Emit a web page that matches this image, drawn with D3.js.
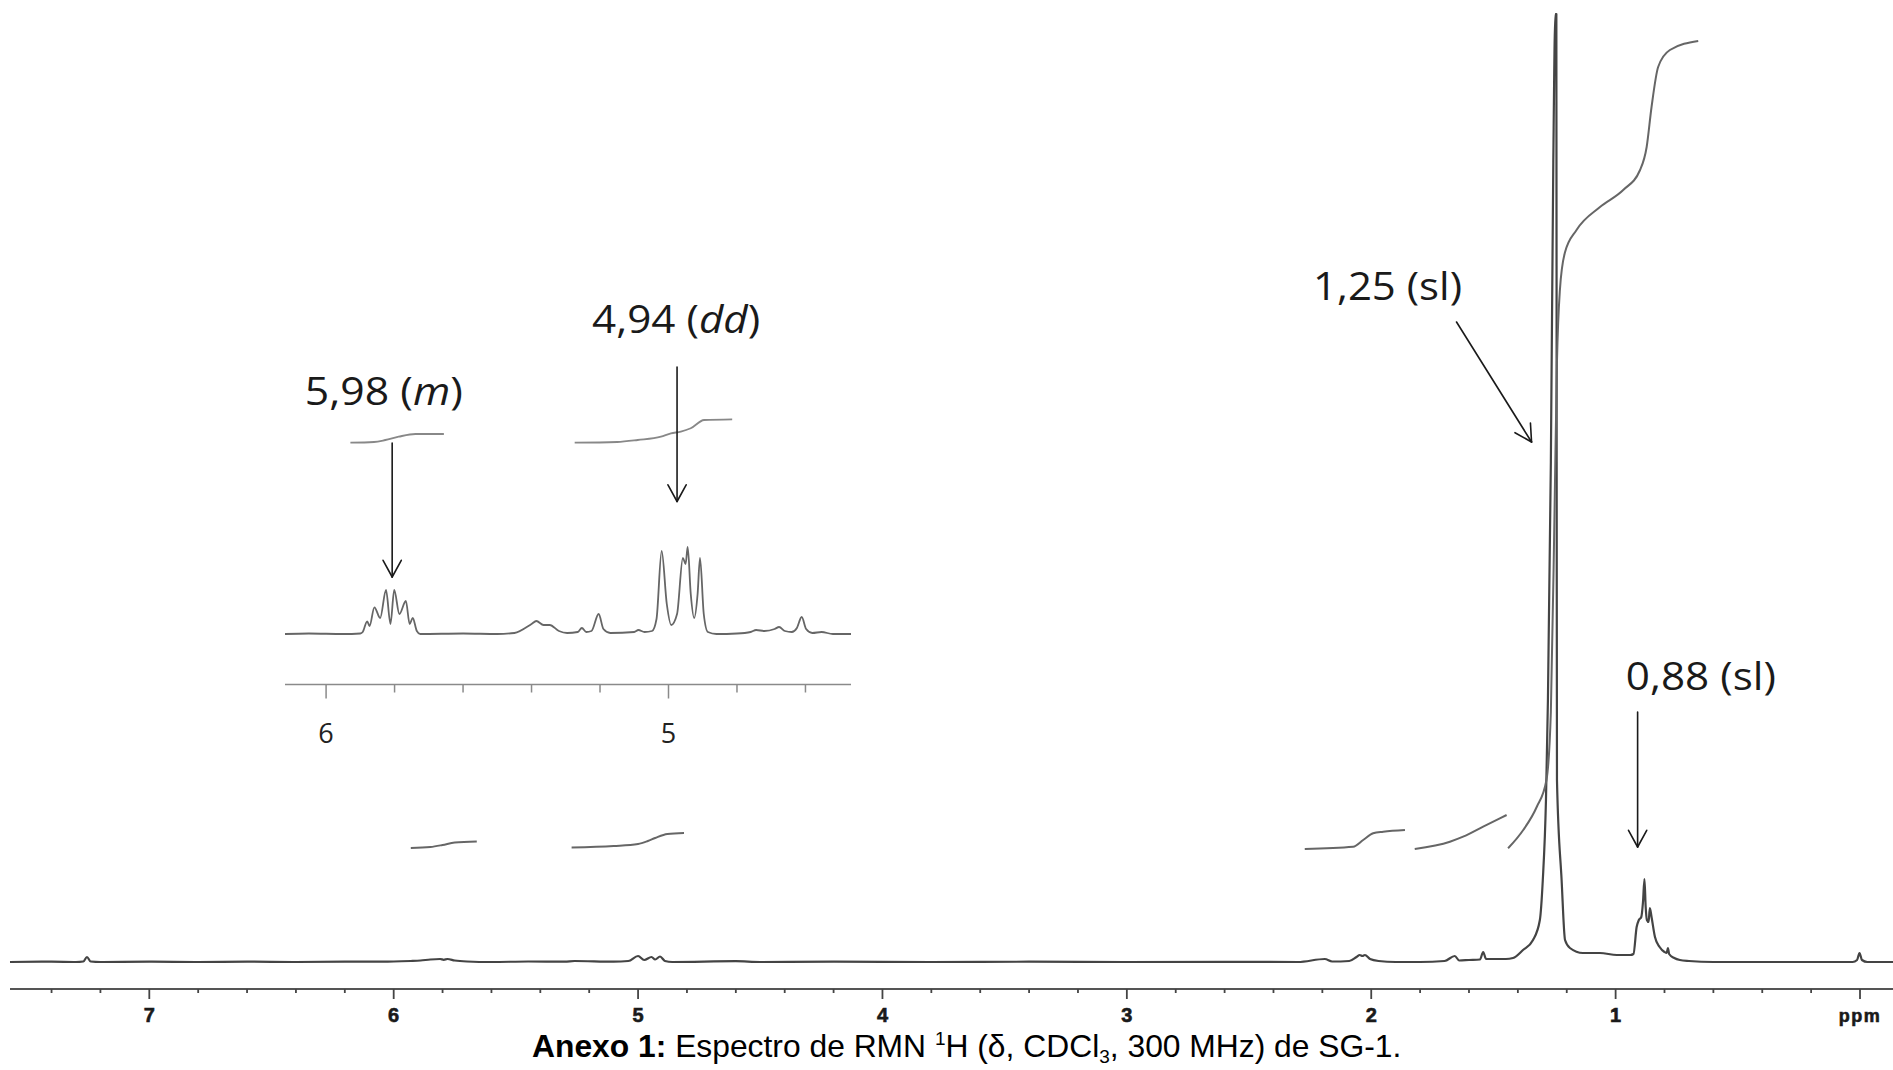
<!DOCTYPE html>
<html>
<head>
<meta charset="utf-8">
<script src="https://cdn.jsdelivr.net/npm/d3@7"></script>
<style>
  html, body { margin: 0; padding: 0; background: #fff; }
  svg { display: block; }
</style>
</head>
<body>
<svg id="chart" width="1893" height="1070"></svg>
<script>
// main spectrum, [ppm, intensity]
var mainSpectrum = [
  [7.57, 0], [7.40, 0.3], [7.30, 0], [7.27, 0.5], [7.255, 5], [7.24, 0.5], [7.2, 0],
  [7.0, 0.4], [6.8, 0], [6.6, 0.4], [6.4, 0], [6.2, 0.3], [6.0, 0.5], [5.93, 1],
  [5.89, 1.5], [5.85, 2.5], [5.81, 3], [5.795, 2.2], [5.78, 3], [5.75, 1.5], [5.70, 0.5],
  [5.6, 0], [5.45, 0.5], [5.3, 0.3], [5.26, 1], [5.1, 0.3], [5.04, 1], [5.0, 6],
  [4.975, 2], [4.945, 5], [4.93, 2.5], [4.91, 5.5], [4.89, 1], [4.86, 0], [4.6, 0.8],
  [4.5, 0], [4.2, 0.3], [3.8, 0], [3.4, 0.3], [3.0, 0], [2.6, 0.2], [2.30, 0],
  [2.19, 3], [2.16, 0.5], [2.09, 1], [2.06, 5], [2.047, 7], [2.036, 6], [2.026, 7],
  [2.005, 3], [1.97, 1], [1.90, 0], [1.80, 0], [1.70, 1], [1.658, 6], [1.64, 1.5],
  [1.60, 2], [1.555, 2.5], [1.542, 10], [1.53, 3], [1.49, 3], [1.449, 3], [1.42, 4],
  [1.379, 12], [1.338, 22], [1.31, 42], [1.298, 82], [1.285, 162], [1.277, 262],
  [1.265, 500], [1.255, 800], [1.2465, 948], [1.2425, 948], [1.2412, 500], [1.2400, 182],
  [1.221, 82], [1.207, 22], [1.187, 14], [1.134, 9], [1.064, 9], [0.995, 7], [0.94, 7],
  [0.927, 8], [0.914, 35], [0.905, 42], [0.895, 45], [0.888, 60], [0.882, 83],
  [0.877, 55], [0.872, 42], [0.865, 40], [0.86, 54], [0.853, 45], [0.839, 25],
  [0.82, 15], [0.80, 10], [0.791, 9], [0.786, 14], [0.781, 8], [0.76, 4], [0.737, 2],
  [0.70, 1], [0.6, 0], [0.2, 0], [0.03, 0], [0.012, 2], [0.002, 9], [-0.008, 2],
  [-0.03, 0], [-0.135, 0]
];

// integral traces on the main spectrum
var mainIntegrals = [
  [[5.93, 114], [5.85, 115], [5.80, 117], [5.75, 119.5], [5.66, 120.5]],
  [[5.272, 114.5], [5.10, 116], [5.0, 118], [4.96, 121], [4.93, 124], [4.88, 128], [4.812, 129]],
  [[2.272, 113], [2.074, 115.3], [2.033, 122], [1.992, 128.7], [1.951, 130.3], [1.862, 132]],
  [[1.822, 113], [1.678, 120.3], [1.624, 125.3], [1.542, 135.3], [1.446, 147]],
  [[1.440, 113.7], [1.378, 132], [1.323, 155], [1.283, 182], [1.265, 250], [1.25, 450],
   [1.24, 600], [1.228, 672], [1.208, 709], [1.160, 732], [1.064, 755], [0.969, 772],
   [0.900, 792], [0.873, 815], [0.853, 855], [0.826, 895], [0.778, 912], [0.662, 921]]
];

// expanded region 6.1 - 4.5 ppm
var insetSpectrum = [
  [6.12, 0], [6.05, 0.5], [5.95, 0], [5.90, 0.5], [5.893, 2], [5.880, 12.7], [5.873, 8],
  [5.859, 26.7], [5.842, 16], [5.825, 44], [5.812, 10], [5.801, 44], [5.786, 20],
  [5.767, 33], [5.756, 10], [5.747, 16], [5.735, 3], [5.725, 0], [5.6, 0.5], [5.5, 0],
  [5.45, 1], [5.40, 10], [5.386, 13], [5.365, 9], [5.347, 9], [5.32, 3], [5.296, 1],
  [5.265, 2], [5.253, 6], [5.24, 2], [5.225, 3], [5.204, 20], [5.19, 5], [5.17, 1],
  [5.10, 2], [5.088, 4], [5.07, 2], [5.048, 3], [5.035, 15], [5.020, 83], [5.005, 30],
  [4.992, 9], [4.975, 20], [4.958, 76], [4.950, 70], [4.944, 87], [4.935, 40],
  [4.925, 16], [4.915, 40], [4.908, 76], [4.897, 20], [4.885, 2], [4.86, 0], [4.80, 0.5],
  [4.76, 2], [4.744, 4], [4.72, 3], [4.69, 5], [4.677, 7], [4.66, 3], [4.64, 2],
  [4.625, 6], [4.611, 17], [4.598, 5], [4.58, 1], [4.553, 2], [4.52, 0], [4.467, 0]
];

var insetIntegrals = [
  [[5.929, 191.3], [5.86, 192], [5.827, 194], [5.788, 197.3], [5.739, 200], [5.656, 200]],
  [[5.274, 191.3], [5.15, 192], [5.09, 194], [5.022, 197.3], [4.993, 200.7], [4.964, 202.3],
   [4.935, 205.7], [4.896, 214], [4.814, 214.7]]
];

var mainTicks = d3.range(0, 38).map(function (i) { return +(i * 0.2).toFixed(1); });
var mainTickLabels = ['ppm', '1', '2', '3', '4', '5', '6', '7'];
var insetTicks = [6.0, 5.8, 5.6, 5.4, 5.2, 5.0, 4.8, 4.6];
var insetTickLabels = ['6', '5'];

// peak labels
var peakLabels = ['5,98 (m)', '4,94 (dd)', '1,25 (sl)', '0,88 (sl)'];

var svg = d3.select('#chart');

var xMain = d3.scaleLinear().domain([7.57, -0.135]).range([10, 1893]);
var yMain = d3.scaleLinear().domain([0, 948]).range([962, 14]);
var xInset = d3.scaleLinear().domain([6.12, 4.467]).range([285, 851]);
var yInset = d3.scaleLinear().domain([0, 100]).range([634, 534]);

function lineFor(xs, ys) {
  return d3.line()
    .x(function (d) { return xs(d[0]); })
    .y(function (d) { return ys(d[1]); })
    .curve(d3.curveMonotoneX);
}

var mainLine = lineFor(xMain, yMain);
var insetLine = lineFor(xInset, yInset);

// ---- main axis
var axisY = 989;
var gAxis = svg.append('g').attr('transform', 'translate(0,' + axisY + ')');
gAxis.append('line')
  .attr('x1', xMain.range()[0]).attr('x2', xMain.range()[1])
  .attr('stroke', '#555').attr('stroke-width', 2);
gAxis.selectAll('line.tick')
  .data(mainTicks.filter(function (t) { return xMain(t) >= 0 && xMain(t) <= 1893; }))
  .enter().append('line')
  .attr('class', 'tick')
  .attr('x1', function (d) { return xMain(d); })
  .attr('x2', function (d) { return xMain(d); })
  .attr('y1', 0)
  .attr('y2', function (d) { return Math.abs(d - Math.round(d)) < 1e-6 ? 10 : 4; })
  .attr('stroke', '#444').attr('stroke-width', 1.8);
gAxis.selectAll('text')
  .data(mainTickLabels)
  .enter().append('text')
  .attr('x', function (d, i) { return xMain(i); })
  .attr('y', 33)
  .attr('text-anchor', 'middle')
  .style('font-family', '"Liberation Sans", Arial, sans-serif')
  .style('font-weight', 'bold')
  .style('font-size', function (d) { return d === 'ppm' ? '18px' : '20px'; })
  .style('letter-spacing', function (d) { return d === 'ppm' ? '1.5px' : '0px'; })
  .style('stroke', '#1a1a1a')
  .style('stroke-width', '0.6px')
  .attr('fill', '#1a1a1a')
  .text(function (d) { return d; });

// ---- main spectrum
svg.append('path')
  .datum(mainSpectrum)
  .attr('d', mainLine)
  .attr('fill', 'none')
  .attr('stroke', '#444')
  .attr('stroke-width', 2.2)
  .attr('stroke-linejoin', 'round');

svg.selectAll('path.mint')
  .data(mainIntegrals)
  .enter().append('path')
  .attr('class', 'mint')
  .attr('d', mainLine)
  .attr('fill', 'none')
  .attr('stroke', '#666')
  .attr('stroke-width', 2);

// ---- inset
var insetAxisY = 684.5;
var gIn = svg.append('g').attr('transform', 'translate(0,' + insetAxisY + ')');
gIn.append('line')
  .attr('x1', xInset.range()[0]).attr('x2', xInset.range()[1])
  .attr('stroke', '#8a8a8a').attr('stroke-width', 1.6);
gIn.selectAll('line.tick')
  .data(insetTicks)
  .enter().append('line')
  .attr('class', 'tick')
  .attr('x1', function (d) { return xInset(d); })
  .attr('x2', function (d) { return xInset(d); })
  .attr('y1', 0)
  .attr('y2', function (d) { return Math.abs(d - Math.round(d)) < 1e-6 ? 14 : 8; })
  .attr('stroke', '#8a8a8a').attr('stroke-width', 1.5);
gIn.selectAll('text')
  .data(insetTickLabels)
  .enter().append('text')
  .attr('x', function (d) { return xInset(+d); })
  .attr('y', 58)
  .attr('text-anchor', 'middle')
  .style('font-family', '"Open Sans", sans-serif')
  .style('font-size', '27px')
  .attr('fill', '#222')
  .text(function (d) { return d; });

svg.append('path')
  .datum(insetSpectrum)
  .attr('d', insetLine)
  .attr('fill', 'none')
  .attr('stroke', '#666')
  .attr('stroke-width', 1.8);

svg.selectAll('path.iint')
  .data(insetIntegrals)
  .enter().append('path')
  .attr('class', 'iint')
  .attr('d', insetLine)
  .attr('fill', 'none')
  .attr('stroke', '#888')
  .attr('stroke-width', 1.8);

// ---- labels and arrows
var labelLayout = [
  { xs: xInset, ys: yInset, tx: 6.062, ty: 229, len: 158, ax: 5.807, a1: 191, a2: 57 },
  { xs: xInset, ys: yInset, tx: 5.223, ty: 301, len: 168, ax: 4.975, a1: 267, a2: 132.5 },
  { xs: xMain, ys: yMain, tx: 2.238, ty: 662, len: 149, ax: [1.651, 1.344], a1: 640, a2: 520 },
  { xs: xMain, ys: yMain, tx: 0.958, ty: 272, len: 150, ax: 0.910, a1: 250, a2: 115 }
];

function arrow(g, x1, y1, x2, y2) {
  var ang = Math.atan2(y2 - y1, x2 - x1), L = 19, spread = 0.5;
  g.append('line').attr('x1', x1).attr('y1', y1).attr('x2', x2).attr('y2', y2);
  [-spread, spread].forEach(function (s) {
    g.append('line')
      .attr('x1', x2).attr('y1', y2)
      .attr('x2', x2 - L * Math.cos(ang + s))
      .attr('y2', y2 - L * Math.sin(ang + s));
  });
}

var gLab = svg.append('g')
  .attr('stroke', '#1a1a1a').attr('stroke-width', 1.6).attr('stroke-linecap', 'round');

peakLabels.forEach(function (label, i) {
  var l = labelLayout[i];
  var m = label.match(/^(.*\()(.*)(\))$/);
  var t = svg.append('text')
    .attr('x', l.xs(l.tx))
    .attr('y', l.ys(l.ty))
    .attr('textLength', l.len)
    .attr('lengthAdjust', 'spacingAndGlyphs')
    .style('font-family', '"Open Sans", sans-serif')
    .style('font-size', '38px')
    .attr('fill', '#1a1a1a');
  t.append('tspan').text(m[1]);
  t.append('tspan').style('font-style', m[2] === 'sl' ? 'normal' : 'italic').text(m[2]);
  t.append('tspan').text(m[3]);

  var ax1 = Array.isArray(l.ax) ? l.ax[0] : l.ax;
  var ax2 = Array.isArray(l.ax) ? l.ax[1] : l.ax;
  arrow(gLab, l.xs(ax1), l.ys(l.a1), l.xs(ax2), l.ys(l.a2));
});

// ---- caption
var cap = svg.append('text')
  .attr('x', 532).attr('y', 1057)
  .style('font-family', '"Liberation Sans", Arial, sans-serif')
  .style('font-size', '31.8px')
  .attr('fill', '#000');
cap.append('tspan').style('font-weight', 'bold').text('Anexo 1:');
cap.append('tspan').text(' Espectro de RMN ');
cap.append('tspan').attr('dy', -12).style('font-size', '19px').text('1');
cap.append('tspan').attr('dy', 12).text('H (δ, CDCl');
cap.append('tspan').attr('dy', 6).style('font-size', '19px').text('3');
cap.append('tspan').attr('dy', -6).text(', 300 MHz) de SG-1.');
</script>
</body>
</html>
